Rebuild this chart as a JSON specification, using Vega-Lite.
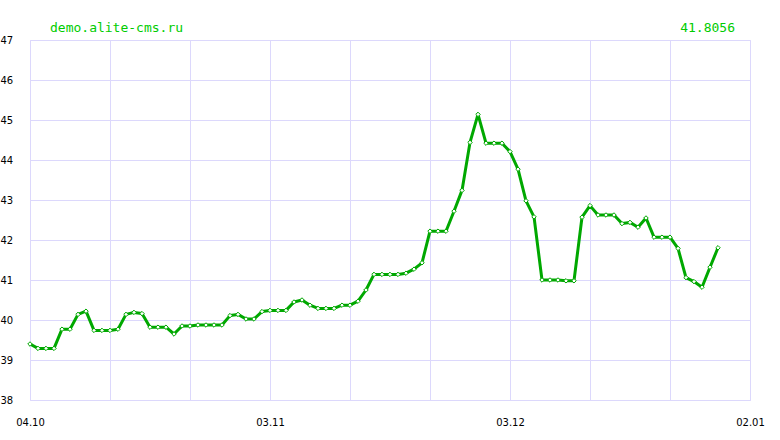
{
  "$schema": "https://vega.github.io/schema/vega-lite/v6.json",
  "autosize": "none",
  "width": 720,
  "height": 360,
  "padding": {"left": 30, "top": 40, "right": 30, "bottom": 40},
  "background": "white",
  "config": {
    "view": {"stroke": "#dcd8fc", "strokeWidth": 1},
    "font": "DejaVu Sans"
  },
  "data": {
    "format": {"parse": {"date": "utc:'%Y-%m-%d'"}},
    "values": [
      {"date": "2023-10-04", "value": 39.40},
      {"date": "2023-10-05", "value": 39.29},
      {"date": "2023-10-06", "value": 39.29},
      {"date": "2023-10-07", "value": 39.29},
      {"date": "2023-10-08", "value": 39.77},
      {"date": "2023-10-09", "value": 39.77},
      {"date": "2023-10-10", "value": 40.14},
      {"date": "2023-10-11", "value": 40.22},
      {"date": "2023-10-12", "value": 39.74},
      {"date": "2023-10-13", "value": 39.74},
      {"date": "2023-10-14", "value": 39.74},
      {"date": "2023-10-15", "value": 39.77},
      {"date": "2023-10-16", "value": 40.14},
      {"date": "2023-10-17", "value": 40.19},
      {"date": "2023-10-18", "value": 40.16},
      {"date": "2023-10-19", "value": 39.82},
      {"date": "2023-10-20", "value": 39.82},
      {"date": "2023-10-21", "value": 39.82},
      {"date": "2023-10-22", "value": 39.65},
      {"date": "2023-10-23", "value": 39.85},
      {"date": "2023-10-24", "value": 39.85},
      {"date": "2023-10-25", "value": 39.875},
      {"date": "2023-10-26", "value": 39.875},
      {"date": "2023-10-27", "value": 39.875},
      {"date": "2023-10-28", "value": 39.875},
      {"date": "2023-10-29", "value": 40.11},
      {"date": "2023-10-30", "value": 40.14},
      {"date": "2023-10-31", "value": 40.025},
      {"date": "2023-11-01", "value": 40.025},
      {"date": "2023-11-02", "value": 40.21},
      {"date": "2023-11-03", "value": 40.24},
      {"date": "2023-11-04", "value": 40.24},
      {"date": "2023-11-05", "value": 40.24},
      {"date": "2023-11-06", "value": 40.45},
      {"date": "2023-11-07", "value": 40.50},
      {"date": "2023-11-08", "value": 40.37},
      {"date": "2023-11-09", "value": 40.29},
      {"date": "2023-11-10", "value": 40.29},
      {"date": "2023-11-11", "value": 40.29},
      {"date": "2023-11-12", "value": 40.37},
      {"date": "2023-11-13", "value": 40.37},
      {"date": "2023-11-14", "value": 40.47},
      {"date": "2023-11-15", "value": 40.75},
      {"date": "2023-11-16", "value": 41.14},
      {"date": "2023-11-17", "value": 41.14},
      {"date": "2023-11-18", "value": 41.14},
      {"date": "2023-11-19", "value": 41.14},
      {"date": "2023-11-20", "value": 41.17},
      {"date": "2023-11-21", "value": 41.27},
      {"date": "2023-11-22", "value": 41.43},
      {"date": "2023-11-23", "value": 42.22},
      {"date": "2023-11-24", "value": 42.22},
      {"date": "2023-11-25", "value": 42.22},
      {"date": "2023-11-26", "value": 42.72},
      {"date": "2023-11-27", "value": 43.24},
      {"date": "2023-11-28", "value": 44.44},
      {"date": "2023-11-29", "value": 45.14},
      {"date": "2023-11-30", "value": 44.42},
      {"date": "2023-12-01", "value": 44.42},
      {"date": "2023-12-02", "value": 44.42},
      {"date": "2023-12-03", "value": 44.21},
      {"date": "2023-12-04", "value": 43.77},
      {"date": "2023-12-05", "value": 42.98},
      {"date": "2023-12-06", "value": 42.58},
      {"date": "2023-12-07", "value": 41.00},
      {"date": "2023-12-08", "value": 41.00},
      {"date": "2023-12-09", "value": 41.00},
      {"date": "2023-12-10", "value": 40.98},
      {"date": "2023-12-11", "value": 40.98},
      {"date": "2023-12-12", "value": 42.57},
      {"date": "2023-12-13", "value": 42.86},
      {"date": "2023-12-14", "value": 42.625},
      {"date": "2023-12-15", "value": 42.625},
      {"date": "2023-12-16", "value": 42.625},
      {"date": "2023-12-17", "value": 42.41},
      {"date": "2023-12-18", "value": 42.44},
      {"date": "2023-12-19", "value": 42.32},
      {"date": "2023-12-20", "value": 42.55},
      {"date": "2023-12-21", "value": 42.07},
      {"date": "2023-12-22", "value": 42.07},
      {"date": "2023-12-23", "value": 42.07},
      {"date": "2023-12-24", "value": 41.79},
      {"date": "2023-12-25", "value": 41.06},
      {"date": "2023-12-26", "value": 40.96},
      {"date": "2023-12-27", "value": 40.82},
      {"date": "2023-12-28", "value": 41.32},
      {"date": "2023-12-29", "value": 41.8056}
    ]
  },
  "encoding": {
    "x": {
      "field": "date",
      "type": "temporal",
      "scale": {
        "type": "utc",
        "domain": [
          {"year": 2023, "month": 10, "date": 4, "utc": true},
          {"year": 2024, "month": 1, "date": 2, "utc": true}
        ]
      },
      "axis": {
        "title": null,
        "values": [
          {"year": 2023, "month": 10, "date": 4, "utc": true},
          {"year": 2023, "month": 10, "date": 14, "utc": true},
          {"year": 2023, "month": 10, "date": 24, "utc": true},
          {"year": 2023, "month": 11, "date": 3, "utc": true},
          {"year": 2023, "month": 11, "date": 13, "utc": true},
          {"year": 2023, "month": 11, "date": 23, "utc": true},
          {"year": 2023, "month": 12, "date": 3, "utc": true},
          {"year": 2023, "month": 12, "date": 13, "utc": true},
          {"year": 2023, "month": 12, "date": 23, "utc": true},
          {"year": 2024, "month": 1, "date": 2, "utc": true}
        ],
        "labelExpr": "(utcdate(datum.value) == 4 && utcmonth(datum.value) == 9) || (utcdate(datum.value) == 3 && utcmonth(datum.value) == 10) || (utcdate(datum.value) == 3 && utcmonth(datum.value) == 11) || (utcdate(datum.value) == 2 && utcmonth(datum.value) == 0) ? utcFormat(datum.value, '%d.%m') : ''",
        "labelFont": "DejaVu Sans",
        "labelFontSize": 10,
        "labelColor": "#000000",
        "labelPadding": 17,
        "labelFlush": false,
        "labelOverlap": false,
        "ticks": false,
        "domain": false,
        "grid": true,
        "gridColor": "#dcd8fc",
        "gridWidth": 1,
        "gridOpacity": 1
      }
    },
    "y": {
      "field": "value",
      "type": "quantitative",
      "scale": {"domain": [38, 47], "nice": false, "zero": false},
      "axis": {
        "title": null,
        "values": [38, 39, 40, 41, 42, 43, 44, 45, 46, 47],
        "labelFont": "DejaVu Sans",
        "labelFontSize": 10,
        "labelColor": "#000000",
        "labelAlign": "left",
        "labelPadding": 30,
        "labelDy": 2,
        "labelFlush": false,
        "ticks": false,
        "domain": false,
        "grid": true,
        "gridColor": "#dcd8fc",
        "gridWidth": 1,
        "gridOpacity": 1
      }
    }
  },
  "layer": [
    {
      "mark": {"type": "line", "color": "#00a800", "strokeWidth": 3, "strokeJoin": "round"}
    },
    {
      "mark": {"type": "point", "shape": "diamond", "size": 20, "filled": true, "fill": "white", "stroke": "#00a800", "strokeWidth": 1, "opacity": 1}
    },
    {
      "transform": [
        {"joinaggregate": [{"op": "max", "field": "date", "as": "lastDate"}]},
        {"filter": "datum.date == datum.lastDate"}
      ],
      "mark": {"type": "text", "align": "right", "baseline": "middle", "dx": 17, "dy": -12, "font": "DejaVu Sans Mono", "fontSize": 13, "color": "#00cc00"},
      "encoding": {
        "y": {"datum": 47},
        "text": {"field": "value", "type": "quantitative", "format": ".4f"}
      }
    },
    {
      "transform": [
        {"joinaggregate": [{"op": "min", "field": "date", "as": "firstDate"}]},
        {"filter": "datum.date == datum.firstDate"}
      ],
      "mark": {"type": "text", "align": "left", "baseline": "middle", "dx": 20, "dy": -12, "font": "DejaVu Sans Mono", "fontSize": 13, "color": "#00cc00", "text": "demo.alite-cms.ru"},
      "encoding": {
        "y": {"datum": 47}
      }
    }
  ]
}
